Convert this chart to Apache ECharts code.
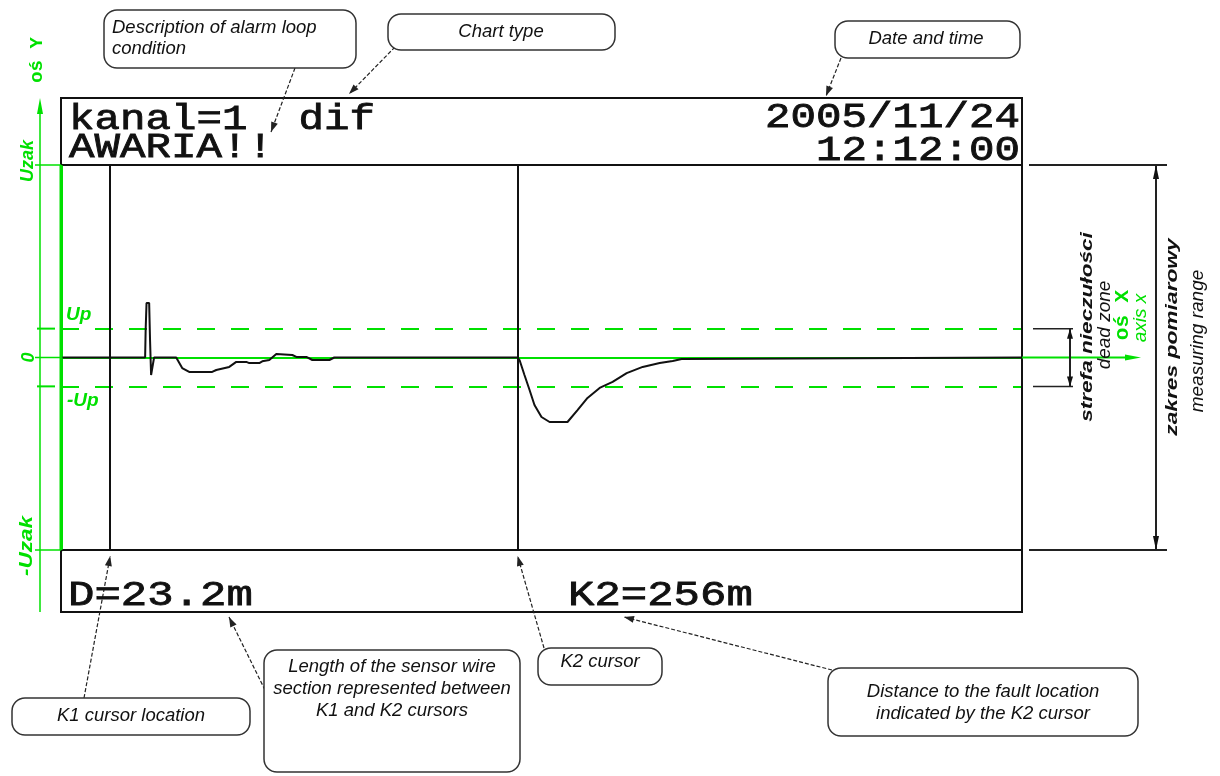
<!DOCTYPE html>
<html><head><meta charset="utf-8">
<script src="https://cdn.jsdelivr.net/npm/echarts@6/dist/echarts.min.js"></script>
<style>html,body{margin:0;padding:0;background:#fff}#c{width:1220px;height:776px}</style>
</head><body><div id="c"></div>
<script>
// ---- data ----
const distanceM = [230.00,234.79,234.82,234.87,235.02,235.07,235.13,235.24,235.30,236.56,236.90,237.30,238.61,238.84,239.58,239.98,240.55,240.72,241.29,241.46,241.86,242.26,243.17,243.40,243.97,244.31,245.28,245.56,256.00,256.11,256.39,256.68,256.96,257.36,257.82,258.84,259.41,259.98,260.67,261.41,262.21,263.12,264.09,264.83,265.34,265.45,284.72];
const amplitude = [0,0,14.3,28.3,28.3,9.1,-9.1,-9.1,0,0,-5.5,-7.5,-7.5,-6.5,-4.9,-2.3,-2.3,-2.9,-2.9,-2.0,-1.3,1.8,1.3,0.3,0.3,-1.3,-1.3,0,0,-1.3,-9.1,-16.9,-24.7,-30.9,-33.5,-33.5,-27.3,-21.0,-15.8,-12.7,-8.1,-4.9,-2.9,-1.8,-0.8,0,0];
const xRange = [230, 284.72];
const uzak = 100;          // measuring range +/-Uzak
const upLevel = 15;        // dead zone +/-Up
const cursorK1 = 232.8;
const cursorK2 = 256;
const headerLeft = ['kanal=1  dif', 'AWARIA!!'];
const headerRight = ['2005/11/24', '12:12:00'];
const yLabels = ['Uzak', '0', '-Uzak'];
const levelLabels = ['Up', '-Up'];
const callouts = [
  {lines:['Description of alarm loop','condition'], align:'left'},
  {lines:['Chart type']},
  {lines:['Date and time']},
  {lines:['K1 cursor location']},
  {lines:['Length of the sensor wire','section represented between','K1 and K2 cursors']},
  {lines:['K2 cursor']},
  {lines:['Distance to the fault location','indicated by the K2 cursor']}
];

const G = '#00e000';
const chart = echarts.init(document.getElementById('c'), null, {renderer:'canvas'});
const seriesData = distanceM.map((d, i) => [d, amplitude[i]]);

chart.setOption({
  animation: false,
  backgroundColor: '#fff',
  grid: {left: 61, right: 198, top: 165, bottom: 226, show: false},
  xAxis: {type:'value', min:xRange[0], max:xRange[1], show:false},
  yAxis: {type:'value', min:-uzak, max:uzak,
    axisLine:{show:true, lineStyle:{color:G, width:3}},
    axisTick:{show:false}, axisLabel:{show:false}, splitLine:{show:false}},
  series: [
    {type:'line', data:[], z:1, silent:true,
      markLine:{silent:true, symbol:['none','none'], label:{show:false}, animation:false,
        data:[
          {yAxis:0, lineStyle:{color:G, width:2, type:'solid'}},
          {yAxis:upLevel, lineStyle:{color:G, width:2, type:[18,16]}},
          {yAxis:-upLevel, lineStyle:{color:G, width:2, type:[18,16]}}
        ]}},
    {type:'line', data:[], z:2, silent:true,
      markLine:{silent:true, symbol:['none','none'], label:{show:false}, animation:false,
        data:[
          {xAxis:cursorK1, lineStyle:{color:'#111', width:2, type:'solid'}},
          {xAxis:cursorK2, lineStyle:{color:'#111', width:2, type:'solid'}}
        ]}},
    {type:'line', data:seriesData, z:5, showSymbol:false, symbol:'none',
      lineStyle:{color:'#111', width:2}}
  ]
});

const px = (x, y) => chart.convertToPixel({gridIndex:0}, [x, y]);
const yPix = v => px(xRange[0], v)[1];
const xPix = v => px(v, 0)[0];
const gl = xPix(xRange[0]), gr = xPix(xRange[1]);
const yTop = yPix(uzak), yBot = yPix(-uzak), y0 = yPix(0), yUp = yPix(upLevel), yDn = yPix(-upLevel);

const els = [];
function line(x1,y1,x2,y2,stroke,w,dash){els.push({type:'line',z:10,shape:{x1,y1,x2,y2},style:{stroke,lineWidth:w,lineDash:dash||null}});}
function head(x,y,ang,len,half,fill){
  const bx=x-len*Math.cos(ang), by=y-len*Math.sin(ang);
  const nx=-Math.sin(ang)*half, ny=Math.cos(ang)*half;
  els.push({type:'polygon',z:11,shape:{points:[[x,y],[bx+nx,by+ny],[bx-nx,by-ny]]},style:{fill}});
}
function arrow(x1,y1,x2,y2){
  line(x1,y1,x2,y2,'#222',1.2,[4,2]);
  head(x2,y2,Math.atan2(y2-y1,x2-x1),10,3.5,'#222');
}
function dbl(x,ya,yb,len,half){
  line(x,ya,x,yb,'#222',2);
  head(x,ya,-Math.PI/2,len,half,'#111');
  head(x,yb,Math.PI/2,len,half,'#111');
}
function text(x,y,t,font,fill,align,opts,extra){
  els.push(Object.assign({type:'text',z:12,x,y,style:Object.assign({text:t,font,fill,align:align||'left',verticalAlign:'middle'},extra||{})},opts||{}));
}
function vtext(x,y,t,font,fill,sx){
  els.push({type:'text',z:12,x,y,rotation:Math.PI/2,scaleX:sx||1,style:{text:t,font,fill,align:'center',verticalAlign:'middle'}});
}

// outer display box
els.push({type:'rect',z:9,shape:{x:gl,y:98,width:gr-gl,height:612-98},style:{fill:'none',stroke:'#111',lineWidth:2}});
line(gl,yTop,gr,yTop,'#111',2);
line(gl,yBot,gr,yBot,'#111',2);
// green y axis redraw on left edge over box
line(gl,yTop,gl,yBot,G,3);

// header / footer texts
const mono = '42.5px "Liberation Mono"';
const heavy = {stroke:'#111', lineWidth:1};
text(69,120,headerLeft[0],mono,'#111','left',{scaleY:0.83},heavy);
text(69,148,headerLeft[1],mono,'#111','left',{scaleY:0.83},heavy);
text(1020,118,headerRight[0],mono,'#111','right',{scaleY:0.83},heavy);
text(1020,151,headerRight[1],mono,'#111','right',{scaleY:0.83},heavy);
const monoF = '44px "Liberation Mono"';
text(68,596,'D=' + (cursorK2 - cursorK1).toFixed(1) + 'm',monoF,'#111','left',{scaleY:0.8},heavy);
text(568,596,'K2=' + cursorK2 + 'm',monoF,'#111','left',{scaleY:0.8},heavy);

// left green axis (oś Y)
line(40,104,40,612,G,1.5);
head(40,98,-Math.PI/2,16,3,G);
[yTop,y0,yBot].forEach(y=>line(35,y,61,y,G,1.5));
line(37,yUp,55,yUp,G,2); line(37,yDn,55,yDn,G,2);
const gb = 'italic bold 18px "Liberation Sans"';
vtext(28,161,yLabels[0],gb,G);
vtext(29,y0,yLabels[1],gb,G);
vtext(27,546,yLabels[2],gb,G,1.25);
vtext(37,60,'oś Y','bold 19px "Liberation Mono"',G);
text(66,yUp-14,levelLabels[0],'italic bold 19px "Liberation Sans"',G);
text(67,yDn+14,levelLabels[1],'italic bold 19px "Liberation Sans"',G);

// right side: x axis extension, dead zone, measuring range
line(gr,y0,1128,y0,G,2);
head(1141,y0,0,16,3,G);
line(1033,yUp,1073,yUp,'#222',1.5); line(1033,yDn,1073,yDn,'#222',1.5);
dbl(1070,yUp,yDn,10,3);
line(1029,yTop,1167,yTop,'#222',2); line(1029,yBot,1167,yBot,'#222',2);
dbl(1156,yTop,yBot,14,3);
vtext(1087,327,'strefa nieczułości','italic bold 17px "Liberation Sans"','#111',1.33);
vtext(1105,325,'dead zone','italic 19px "Liberation Sans"','#111');
vtext(1123,315,'oś X','bold 21px "Liberation Mono"',G);
vtext(1141,318,'axis x','italic 19px "Liberation Sans"',G);
vtext(1172,337,'zakres pomiarowy','italic bold 17px "Liberation Sans"','#111',1.34);
vtext(1198,341,'measuring range','italic 19px "Liberation Sans"','#111');

// callouts
const boxes = [
  {x:104,y:10,w:252,h:58,tx:112,ty:[28,49]},
  {x:388,y:14,w:227,h:36,tx:501,ty:[32]},
  {x:835,y:21,w:185,h:37,tx:926,ty:[39]},
  {x:12,y:698,w:238,h:37,tx:131,ty:[716]},
  {x:264,y:650,w:256,h:122,tx:392,ty:[667,689,711]},
  {x:538,y:648,w:124,h:37,tx:600,ty:[662]},
  {x:828,y:668,w:310,h:68,tx:983,ty:[692,714]}
];
const cf = 'italic 18.5px "Liberation Sans"';
boxes.forEach((b,i)=>{
  els.push({type:'rect',z:12,shape:{x:b.x,y:b.y,width:b.w,height:b.h,r:13},style:{fill:'#fff',stroke:'#333',lineWidth:1.5}});
  callouts[i].lines.forEach((t,j)=>text(b.tx,b.ty[j],t,cf,'#111',callouts[i].align||'center'));
});
arrow(295,68,271,132);
arrow(395,47,349,94);
arrow(841,58,826,96);
arrow(84,698,xPix(cursorK1),556);
arrow(265,690,229,617);
arrow(544,648,xPix(cursorK2),556);
arrow(832,670,624,617);

chart.setOption({graphic:{elements:els}});
</script></body></html>
